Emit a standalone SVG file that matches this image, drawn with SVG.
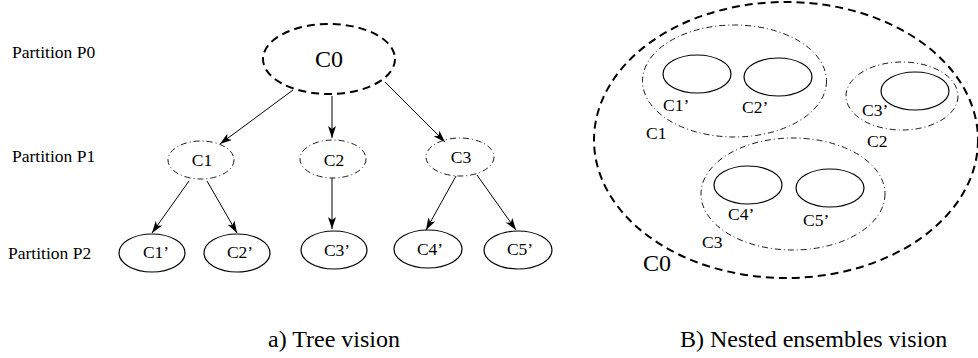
<svg xmlns="http://www.w3.org/2000/svg" width="978" height="358" viewBox="0 0 978 358">
<style>
text{font-family:'Liberation Serif','Times New Roman',Times,'Nimbus Roman','DejaVu Serif',serif;fill:#000}
.lbl{font-size:17.5px}
.big{font-size:24px}
.cap{font-size:24px}
.dash{fill:none;stroke:#000;stroke-width:2;stroke-dasharray:8 5}
.dd{fill:none;stroke:#000;stroke-width:0.9;stroke-dasharray:6 3 1 3}
.sol{fill:none;stroke:#000;stroke-width:1.2}
.arr{stroke:#000;stroke-width:1;fill:none;marker-end:url(#ah)}
</style>
<defs>
<marker id="ah" viewBox="0 0 12 8" refX="12" refY="4" markerWidth="12" markerHeight="8" markerUnits="userSpaceOnUse" orient="auto">
<path d="M0,0 L12,4 L0,8 L3,4 z" fill="#000"/>
</marker>
</defs>
<rect width="978" height="358" fill="#fff"/>
<g font-family="Liberation Serif, Times New Roman, Times, DejaVu Serif, serif">
<g id="partition-labels">
<text class="lbl" x="12" y="58">Partition P0</text>
<text class="lbl" x="12" y="162">Partition P1</text>
<text class="lbl" x="8" y="259">Partition P2</text>
</g>
<g id="tree-C0"><ellipse class="dash" cx="329" cy="59" rx="66" ry="35"/><text class="big" x="329" y="67" text-anchor="middle">C0</text></g>
<g id="tree-C1"><ellipse class="dd" cx="201" cy="160" rx="33" ry="19"/><text class="lbl" x="202" y="166" text-anchor="middle">C1</text></g>
<g id="tree-C2"><ellipse class="dd" cx="333" cy="159" rx="33" ry="19"/><text class="lbl" x="334" y="166" text-anchor="middle">C2</text></g>
<g id="tree-C3"><ellipse class="dd" cx="460" cy="157" rx="34" ry="19"/><text class="lbl" x="461" y="163" text-anchor="middle">C3</text></g>
<g id="tree-C1p"><ellipse class="sol" cx="152" cy="253" rx="33" ry="19"/><text class="lbl" x="156" y="258" text-anchor="middle">C1’</text></g>
<g id="tree-C2p"><ellipse class="sol" cx="237" cy="253" rx="33" ry="19"/><text class="lbl" x="240" y="258" text-anchor="middle">C2’</text></g>
<g id="tree-C3p"><ellipse class="sol" cx="334" cy="250" rx="33" ry="19"/><text class="lbl" x="337" y="256" text-anchor="middle">C3’</text></g>
<g id="tree-C4p"><ellipse class="sol" cx="428" cy="249" rx="34" ry="19"/><text class="lbl" x="430" y="255" text-anchor="middle">C4’</text></g>
<g id="tree-C5p"><ellipse class="sol" cx="518" cy="250" rx="34" ry="19"/><text class="lbl" x="520" y="255" text-anchor="middle">C5’</text></g>
<g id="connectors">
<line class="arr" x1="293" y1="90" x2="220" y2="144"/>
<line class="arr" x1="332" y1="96" x2="332" y2="138"/>
<line class="arr" x1="385" y1="82" x2="445" y2="142"/>
<line class="arr" x1="189" y1="181" x2="152" y2="233"/>
<line class="arr" x1="207" y1="181" x2="237" y2="233"/>
<line class="arr" x1="332" y1="178" x2="332" y2="229"/>
<line class="arr" x1="456" y1="176" x2="426" y2="230"/>
<line class="arr" x1="477" y1="175" x2="516" y2="230"/>
</g>
<g id="nest-C0"><ellipse class="dash" cx="786" cy="140" rx="192" ry="138"/><text class="big" x="643" y="271">C0</text></g>
<g id="nest-C1"><ellipse class="dd" cx="734.5" cy="81" rx="92" ry="56"/><text class="lbl" x="646" y="139">C1</text></g>
<g id="nest-C1p"><ellipse class="sol" cx="697" cy="74" rx="34" ry="19"/><text class="lbl" x="663" y="111">C1’</text></g>
<g id="nest-C2p"><ellipse class="sol" cx="778" cy="77" rx="34" ry="19"/><text class="lbl" x="742" y="113">C2’</text></g>
<g id="nest-C2"><ellipse class="dd" cx="902" cy="96" rx="56" ry="34"/><text class="lbl" x="867" y="147">C2</text></g>
<g id="nest-C3p"><ellipse class="sol" cx="915" cy="91" rx="34" ry="19"/><text class="lbl" x="862" y="116">C3’</text></g>
<g id="nest-C3"><ellipse class="dd" cx="793" cy="194" rx="92" ry="56"/><text class="lbl" x="702" y="248">C3</text></g>
<g id="nest-C4p"><ellipse class="sol" cx="748" cy="185" rx="34" ry="19"/><text class="lbl" x="728" y="220">C4’</text></g>
<g id="nest-C5p"><ellipse class="sol" cx="830" cy="188" rx="34" ry="19"/><text class="lbl" x="803" y="226">C5’</text></g>
<g id="captions">
<text class="cap" x="268" y="347">a) Tree vision</text>
<text class="cap" x="680" y="347">B) Nested ensembles vision</text>
</g>
</g>
</svg>
